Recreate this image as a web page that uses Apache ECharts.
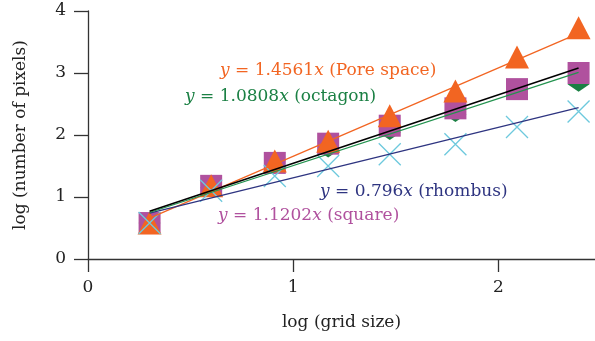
<!DOCTYPE html>
<html>
<head>
<meta charset="utf-8">
<script src="https://cdn.jsdelivr.net/npm/echarts@6/dist/echarts.min.js"></script>
<style>
html, body { margin: 0; padding: 0; background: #fff; }
#chart { width: 595px; height: 341px; }
</style>
</head>
<body>
<div id="chart"></div>
<script>
// log (grid size)
const gridLog = [0.30, 0.60, 0.91, 1.17, 1.47, 1.79, 2.09, 2.39];
// log (number of pixels)
const poreSpace = [0.58, 1.18, 1.58, 1.90, 2.31, 2.71, 3.26, 3.73];
const square = [0.58, 1.18, 1.55, 1.86, 2.15, 2.43, 2.74, 3.00];
const octagon = [0.58, 1.15, 1.50, 1.76, 2.04, 2.33, 2.70, 2.82];
const rhombus = [0.58, 1.10, 1.34, 1.50, 1.69, 1.85, 2.13, 2.38];
// fit lines, [x, y] at both ends
const fitPore = [[0.30, 0.66], [2.39, 3.64]];
const fitBlack = [[0.30, 0.77], [2.39, 3.08]];
const fitOctagon = [[0.30, 0.75], [2.39, 3.01]];
const fitRhombus = [[0.30, 0.74], [2.39, 2.44]];
const xTicks = [0, 1, 2];
const yTicks = [0, 1, 2, 3, 4];

const font = 'DejaVu Serif';
const fs = 17;
const txtColor = '#222';
const orange = '#f26522';
const purple = '#b0519e';
const green = '#1b8044';
const navy = '#2e3480';
const cyan = '#6dc9dd';

const pairs = (ys) => gridLog.map((x, i) => [x, ys[i]]);

function eqLabel(left, top, coef, name, color) {
    return {
        type: 'text',
        left: left,
        top: top,
        style: {
            text: '{i|y} = ' + coef + '{i|x} (' + name + ')',
            font: fs + 'px "' + font + '"',
            fill: color,
            rich: {
                i: { fontStyle: 'italic', fontFamily: font, fontSize: fs, fill: color },
            },
        },
    };
}

const option = {
    animation: false,
    grid: { left: 88, right: 0, top: 11, bottom: 82 },
    xAxis: {
        type: 'value',
        min: 0,
        max: 2.47,
        interval: 1,
        name: 'log (grid size)',
        nameLocation: 'middle',
        nameGap: 55,
        nameTextStyle: { fontFamily: font, fontSize: fs, color: txtColor },
        axisLine: { show: true, onZero: false, lineStyle: { color: '#333', width: 1.3 } },
        axisTick: { show: true, length: 13, customValues: xTicks, lineStyle: { color: '#333', width: 1.3 } },
        axisLabel: { customValues: xTicks, fontFamily: font, fontSize: fs, color: txtColor, margin: 20 },
        splitLine: { show: false },
    },
    yAxis: {
        type: 'value',
        min: 0,
        max: 4,
        interval: 1,
        name: 'log (number of pixels)',
        nameLocation: 'middle',
        nameGap: 59,
        nameTextStyle: { fontFamily: font, fontSize: fs, color: txtColor },
        axisLine: { show: true, onZero: false, lineStyle: { color: '#333', width: 1.3 } },
        axisTick: { show: true, length: 14, customValues: yTicks, lineStyle: { color: '#333', width: 1.3 } },
        axisLabel: { customValues: yTicks, fontFamily: font, fontSize: fs, color: txtColor, margin: 22 },
        splitLine: { show: false },
    },
    series: [
        {
            name: 'octagon',
            type: 'scatter',
            symbol: 'diamond',
            symbolSize: [22, 15],
            itemStyle: { color: green, opacity: 1 },
            data: pairs(octagon),
            z: 2,
        },
        {
            name: 'square',
            type: 'scatter',
            symbol: 'rect',
            symbolSize: 22,
            itemStyle: { color: purple, opacity: 1 },
            data: pairs(square),
            z: 3,
        },
        {
            name: 'Pore space',
            type: 'scatter',
            symbol: 'triangle',
            symbolSize: [24, 23],
            itemStyle: { color: orange, opacity: 1 },
            data: pairs(poreSpace),
            z: 4,
        },
        {
            name: 'rhombus',
            type: 'scatter',
            symbol: 'path://M0,0L10,10M10,0L0,10',
            symbolSize: 22,
            itemStyle: { color: 'rgba(0,0,0,0)', borderColor: cyan, borderWidth: 1.3, opacity: 1 },
            data: pairs(rhombus),
            z: 5,
        },
        {
            type: 'line',
            data: fitPore,
            showSymbol: false,
            lineStyle: { color: orange, width: 1.3 },
            z: 6,
        },
        {
            type: 'line',
            data: fitRhombus,
            showSymbol: false,
            lineStyle: { color: navy, width: 1.3 },
            z: 6,
        },
        {
            type: 'line',
            data: fitOctagon,
            showSymbol: false,
            lineStyle: { color: '#23934f', width: 1.3 },
            z: 6,
        },
        {
            type: 'line',
            data: fitBlack,
            showSymbol: false,
            lineStyle: { color: '#000', width: 1.5 },
            z: 7,
        },
    ],
    graphic: [
        eqLabel(220, 62, '1.4561', 'Pore space', orange),
        eqLabel(185, 88, '1.0808', 'octagon', green),
        eqLabel(320, 183, '0.796', 'rhombus', navy),
        eqLabel(218, 207, '1.1202', 'square', purple),
    ],
};

const myChart = echarts.init(document.getElementById('chart'), null, { renderer: 'canvas' });
myChart.setOption(option);
</script>
</body>
</html>
